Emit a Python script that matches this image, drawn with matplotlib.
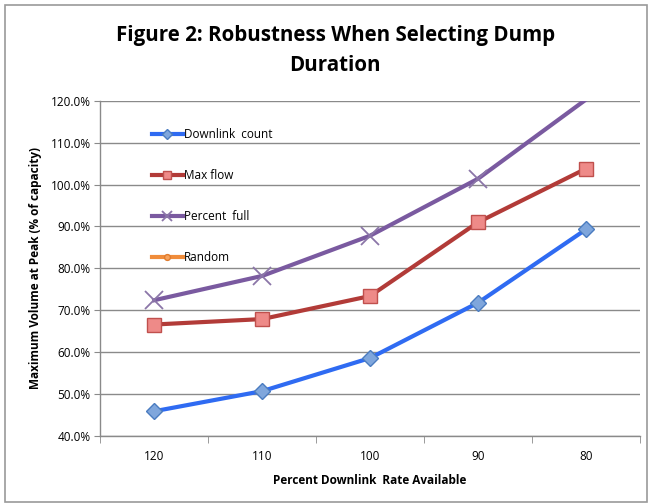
import matplotlib.pyplot as plt
from matplotlib.patches import Rectangle

# Data
categories = ['120', '110', '100', '90', '80']
downlink_count = [45.9, 50.7, 58.6, 71.8, 89.3]
max_flow = [66.6, 67.9, 73.4, 91.0, 103.8]
percent_full = [72.4, 78.2, 87.8, 101.4, 120.3]
random_vals = []  # empty series, only shown in the legend

plt.rcParams['font.family'] = ['Open Sans', 'DejaVu Sans']

fig = plt.figure(figsize=(6.51, 5.04), dpi=100)
ax = fig.add_axes([0.154, 0.135, 0.829, 0.665])

# outer chart border
fig.patches.append(Rectangle((5 / 651, 2 / 504), 642 / 651, 497 / 504, transform=fig.transFigure,
                             fill=False, edgecolor='#9a9a9a', linewidth=1.2))

x = list(range(len(categories)))
ax.plot(x, downlink_count, color='#2F6BF2', linewidth=3, marker='D', markersize=8,
        markerfacecolor='#7FA6DC', markeredgecolor='#4A7CC0', label='Downlink  count', zorder=3)
ax.plot(x, max_flow, color='#B23B38', linewidth=3, marker='s', markersize=10,
        markerfacecolor='#EE8A88', markeredgecolor='#C0504D', label='Max flow', zorder=3)
# point above the axis maximum: marker hidden, line runs off the top
ax.plot(x, percent_full, color='#7A5AA0', linewidth=3, marker='x', markersize=13,
        markeredgewidth=1.3, markeredgecolor='#8B76A8', label='Percent  full', zorder=3,
        markevery=[i for i, v in enumerate(percent_full) if v <= 120])
ax.plot(random_vals, random_vals, color='#F08C3A', linewidth=3, marker='o', markersize=7,
        markerfacecolor='#F7A35C', markeredgecolor='#E07B2E', label='Random')

ax.set_xlim(-0.5, 4.5)
ax.set_ylim(40, 120)
ax.set_yticks(range(40, 121, 10))
ax.set_yticklabels([f'{v:.1f}%' for v in range(40, 121, 10)], fontsize=8.5)
ax.set_xticks(x)
ax.set_xticklabels(categories, fontsize=8.5)
ax.set_xticks([i - 0.5 for i in range(len(categories) + 1)], minor=True)
ax.tick_params(axis='x', which='major', length=0, pad=10)
ax.tick_params(axis='x', which='minor', length=5, color='#8a8a8a')
ax.tick_params(axis='y', length=4, color='#8a8a8a', pad=3)

ax.grid(True, axis='y', color='#8a8a8a', linewidth=1)
ax.set_axisbelow(True)
for side in ['top', 'right']:
    ax.spines[side].set_visible(False)
for side in ['left', 'bottom']:
    ax.spines[side].set_color('#8a8a8a')
    ax.spines[side].set_linewidth(1)

ax.set_ylabel('Maximum Volume at Peak (% of capacity)', fontsize=8.5, fontweight='bold', labelpad=6)
ax.set_xlabel('Percent Downlink  Rate Available', fontsize=8.5, fontweight='bold', labelpad=8)

fig.suptitle('Figure 2: Robustness When Selecting Dump\nDuration', fontsize=14.8, fontweight='bold',
             x=0.515, y=0.95, linespacing=1.55)

ax.legend(loc='upper left', bbox_to_anchor=(0.085, 0.935), frameon=False, fontsize=8.5,
          labelspacing=2.35, handlelength=2.6, handletextpad=0.1, borderpad=0, markerscale=0.6)

plt.savefig('out.png', dpi=100)
